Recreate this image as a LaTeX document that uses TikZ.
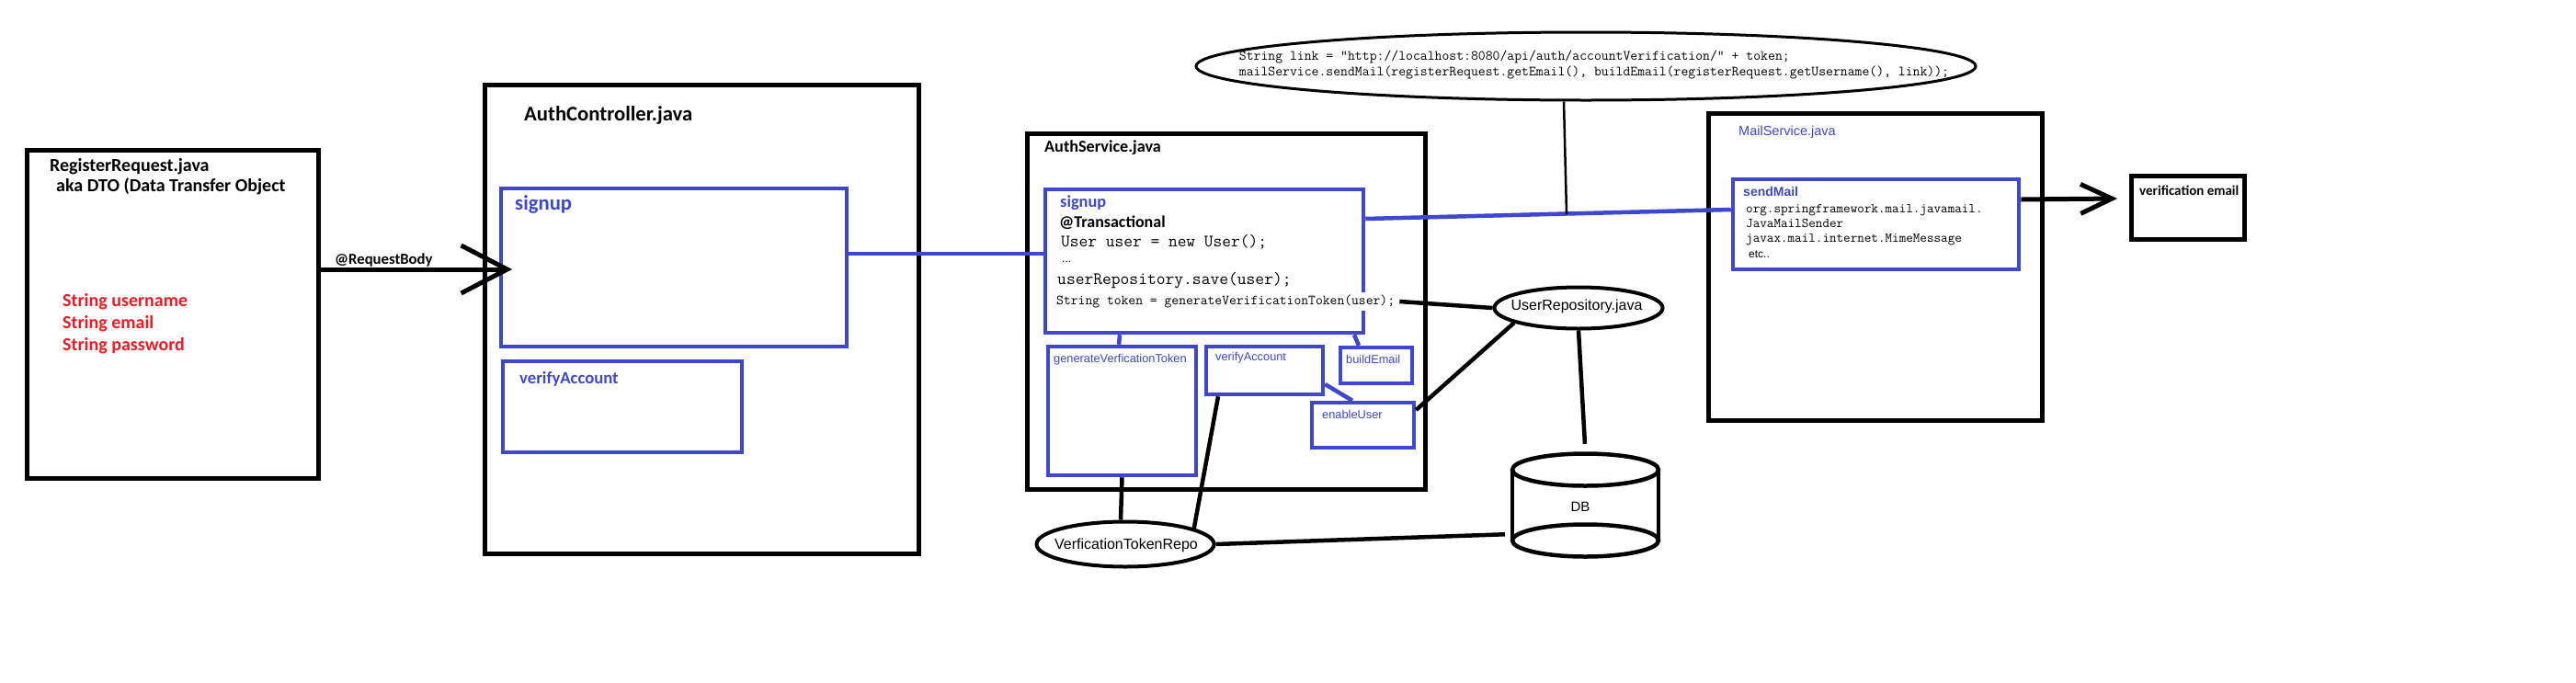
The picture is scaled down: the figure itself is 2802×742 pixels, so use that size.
\documentclass[tikz,border=0pt]{standalone}
\usepackage{fontspec}
\setmainfont{Carlito}
\newfontfamily\arialf{Liberation Sans}
\usetikzlibrary{shapes.geometric,arrows.meta,calc}
\definecolor{pblue}{RGB}{63,72,204}
\definecolor{pred}{RGB}{237,28,36}
\newcommand\fsz[1]{\fontsize{#1}{#1}\selectfont}
\newcommand\fszl[2]{\fontsize{#1}{#2}\selectfont}
\begin{document}
\begin{tikzpicture}[x=1pt,y=-1pt,
  bbox/.style={draw=black,line width=5pt,inner sep=0pt,rectangle},
  ubox/.style={draw=pblue,line width=4.5pt,inner sep=0pt,rectangle},
  tl/.style={inner sep=0pt,anchor=west},
  blk/.style={draw=black,line width=4.5pt},
  bl/.style={draw=pblue,line width=4.5pt},
  ell/.style={draw=black,line width=4pt,ellipse,inner sep=0pt},
  lbl/.style={tl,font=\arialf\fsz{12.8},text=pblue},
]
\fill[white] (0,0) rectangle (2802,742);
\useasboundingbox (0,0) rectangle (2802,742);

% RegisterRequest
\node[bbox,minimum width=317pt,minimum height=357pt] (rr) at (187.5,341.5) {};
\node[tl,font=\bfseries\fsz{20}] (rrt) at (54,181) {RegisterRequest.java};
\node[tl,font=\bfseries\fsz{20}] (rrt2) at (61,203) {aka DTO (Data Transfer Object};
\node[tl,font=\bfseries\fszl{20}{24},text=pred,align=left] (rrf) at (68,352) {String username\\String email\\String password};

% AuthController
\node[bbox,minimum width=472pt,minimum height=510pt] (ac) at (763,347) {};
\node[tl,font=\bfseries\fsz{22.7}] (act) at (570,125) {AuthController.java};
\node[ubox,minimum width=376pt,minimum height=172pt] (acs) at (733,291) {};
\node[tl,font=\bfseries\fsz{22.7},text=pblue] (acst) at (560,222) {signup};
\node[ubox,minimum width=260pt,minimum height=99pt] (acv) at (677,442.5) {};
\node[tl,font=\bfseries\fsz{18.7},text=pblue] (acvt) at (565,412) {verifyAccount};

% AuthService
\node[bbox,minimum width=433pt,minimum height=387pt] (as) at (1333.5,338.5) {};
\node[tl,font=\bfseries\fsz{18.2}] (ast) at (1136,161) {AuthService.java};
\node[ubox,minimum width=346pt,minimum height=156pt] (ass) at (1310,284) {};
\node[tl,font=\bfseries\fsz{18.3},text=pblue] (asst) at (1153,221) {signup};
\node[tl,font=\bfseries\fsz{18}] (astr) at (1152,242) {@Transactional};
\node[tl,font=\ttfamily\fsz{18.9}] (asc1) at (1154,263) {User user = new User();};
\node[tl,font=\arialf\fsz{12}] (asc2) at (1155,285) {...};
\node[tl,font=\ttfamily\fsz{19}] (asc3) at (1150,305) {userRepository.save(user);};
\node[tl,font=\ttfamily\fsz{15.2},fill=white,inner ysep=3pt] (asc4) at (1149,328) {String token = generateVerificationToken(user);};

\node[ubox,minimum width=161pt,minimum height=140pt] (gvt) at (1220.5,447) {};
\node[lbl] (gvtt) at (1146,391) {generateVerficationToken};
\node[ubox,minimum width=127pt,minimum height=52pt] (vac) at (1375.5,403) {};
\node[lbl] (vact) at (1322,389) {verifyAccount};
\node[ubox,minimum width=78pt,minimum height=39pt] (bem) at (1497,397.5) {};
\node[lbl] (bemt) at (1464,391) {buildEmail};
\node[ubox,minimum width=111pt,minimum height=49pt] (enu) at (1482.5,462.5) {};
\node[lbl] (enut) at (1438,451) {enableUser};

% MailService
\node[bbox,minimum width=363pt,minimum height=334pt] (ms) at (2039.5,290) {};
\node[tl,font=\arialf\fsz{14.5},text=pblue] (mst) at (1891,144) {MailService.java};
\node[ubox,minimum width=311pt,minimum height=98pt] (sm) at (2040.5,244) {};
\node[tl,font=\arialf\bfseries\fsz{14},text=pblue] (smt) at (1896,208) {sendMail};
\node[tl,font=\ttfamily\fszl{14.7}{16},align=left] (smc) at (1899,245) {org.springframework.mail.javamail.\\JavaMailSender\\javax.mail.internet.MimeMessage};
\node[tl,font=\arialf\fsz{12}] (sme) at (1902,277) {etc..};

\node[bbox,minimum width=123pt,minimum height=69pt] (ve) at (2379.5,225.5) {};
\node[tl,font=\bfseries\fsz{15}] (vet) at (2327,207) {verification email};

% ellipses
\node[ell,line width=3pt,minimum width=848pt,minimum height=74pt] (code) at (1725,72) {};
\node[font=\ttfamily\fszl{15.3}{17},align=left,inner sep=0pt] (codet) at (1734,70.5) {String link = "http://localhost:8080/api/auth/accountVerification/" + token;\\mailService.sendMail(registerRequest.getEmail(), buildEmail(registerRequest.getUsername(), link));};

\node[ell,minimum width=183pt,minimum height=45pt] (ur) at (1717,335) {};
\node[font=\arialf\fsz{16},inner sep=0pt] (urt) at (1715,333) {UserRepository.java};
\node[ell,minimum width=193pt,minimum height=49pt] (vtr) at (1224,592) {};
\node[font=\arialf\fsz{16},inner sep=0pt] (vtrt) at (1225,593) {VerficationTokenRepo};

% DB cylinder
\draw[line width=4.5pt] (1724.5,511) ellipse [x radius=79.5, y radius=17.5];
\draw[line width=4.5pt] (1724.5,588) ellipse [x radius=79.5, y radius=17.5];
\draw[line width=4.5pt] (1645,511) -- (1645,588) (1804,511) -- (1804,588);
\node[font=\arialf\fsz{15},inner sep=0pt] (dbt) at (1719,551) {DB};
\node[inner sep=0pt,minimum width=159pt,minimum height=112pt] (db) at (1724.5,549) {};

% connectors
\coordinate (tipA) at (557,293);
\draw[line width=5pt,-{Straight Barb[length=50pt,width=52pt]}] (rr.east |- tipA) -- (tipA);
\node[tl,font=\bfseries\fsz{16.7}] (rb) at (364,283) {@RequestBody};

\draw[bl] (acs.east |- 0,276) -- (ass.west |- 0,276);
\draw[bl] (ass.east |- 0,238) -- (sm.west |- 0,228);
\coordinate (jn) at (1704,233);
\draw[line width=2.5pt] (code.south -| 1701,0) -- (jn);

\coordinate (tipB) at (2303,216);
\draw[line width=5pt,-{Straight Barb[length=34pt,width=32pt]}] (sm.east |- 0,217) -- (tipB);

\draw[bl] (ass.south -| 1218,0) -- (gvt.north -| 1217,0);
\draw[bl] (ass.south -| 1473,0) -- (bem.north -| 1478,0);
\draw[bl] (vac.east |- 0,418) -- (enu.north -| 1471,0);

\draw[blk] (asc4.east) ++(5,0) -- (ur.west);
\draw[blk] (enu.east |- 0,446) -- (ur.193);
\draw[blk,shorten >=10pt] (ur.south) -- (db.north);
\draw[blk] (gvt.south) -- (vtr.north -| 1219,0);
\draw[blk] (vac.south -| 1325,0) -- (vtr.13);
\draw[blk,shorten >=8pt] (vtr.east) -- (db.west |- 0,581);
\end{tikzpicture}
\end{document}
